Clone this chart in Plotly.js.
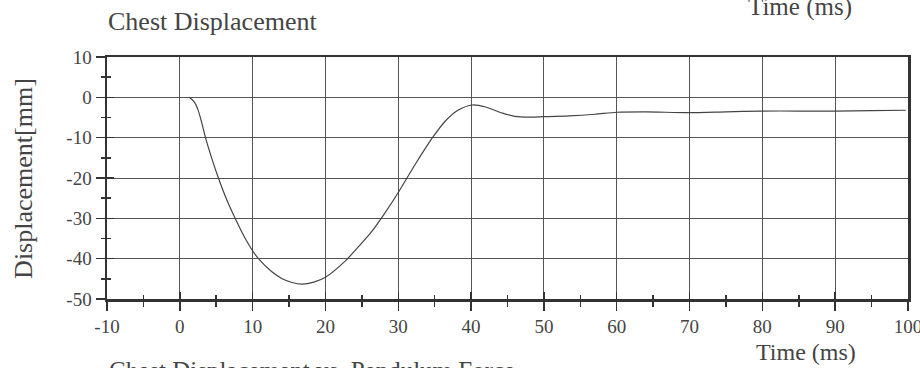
<!DOCTYPE html>
<html><head><meta charset="utf-8">
<script src="https://cdn.plot.ly/plotly-3.0.1.min.js"></script>
<style>html,body{margin:0;padding:0;background:#fff}#chart{width:920px;height:368px}</style>
</head><body><div id="chart"></div>
<script>
const timeMs = [1.3, 2.0, 2.5, 3.0, 3.5, 4.4, 5.3, 6.4, 7.6, 8.8, 9.9, 10.8, 12.6, 14.0, 15.4, 16.8, 18.4, 20.0, 22.7, 24.5, 26.4, 28.2, 30.0, 32.4, 34.7, 36.5, 38.2, 40.2, 42.0, 44.3, 46.0, 48.0, 50.0, 53.5, 57.0, 60.0, 64.0, 69.8, 75.0, 79.8, 85.0, 90.0, 95.0, 99.7];
const displacementMm = [0.0, -1.2, -3.1, -6.2, -9.8, -15.2, -20.0, -25.2, -30.0, -34.4, -37.8, -40.0, -43.2, -44.9, -45.9, -46.3, -45.8, -44.6, -40.6, -37.1, -33.2, -28.6, -23.6, -16.4, -10.0, -5.8, -3.2, -1.9, -2.4, -3.9, -4.7, -4.9, -4.8, -4.6, -4.2, -3.7, -3.6, -3.8, -3.6, -3.4, -3.4, -3.4, -3.3, -3.2];
const xTicks = [-10, 0, 10, 20, 30, 40, 50, 60, 70, 80, 90, 100];
const yTicks = [10, 0, -10, -20, -30, -40, -50];

const serif = "Liberation Serif, Times New Roman, serif";
const ink = "#444";

const trace = {
  x: timeMs, y: displacementMm, type: "scatter", mode: "lines",
  line: {color: "#444", width: 1.2, shape: "spline", smoothing: 0.8},
  hoverinfo: "skip", showlegend: false
};
// invisible helper trace so overlay axes (inside tick marks) are drawn
const helper = {x: [-10], y: [-50], xaxis: "x2", yaxis: "y2", mode: "markers",
  marker: {opacity: 0}, hoverinfo: "skip", showlegend: false, type: "scatter"};

const layout = {
  width: 920, height: 368,
  margin: {l: 107, r: 12, t: 57, b: 69},
  paper_bgcolor: "#fff", plot_bgcolor: "#fff",
  font: {family: serif, color: ink, size: 19},
  xaxis: {
    range: [-10, 100], tickvals: xTicks, ticktext: xTicks.map(String),
    showgrid: true, gridcolor: "#555", gridwidth: 1,
    showline: true, linecolor: "#333", linewidth: 2.5, mirror: true,
    ticks: "outside", ticklen: 9, tickcolor: "#333", tickwidth: 1.5,
    minor: {dtick: 5, ticks: "outside", ticklen: 5, tickcolor: "#333", tickwidth: 1.5, showgrid: false},
    zeroline: false, tickfont: {family: serif, size: 19, color: ink},
    ticklabeloverflow: "allow"
  },
  yaxis: {
    range: [-50, 10], tickvals: yTicks, ticktext: yTicks.map(String),
    showgrid: true, gridcolor: "#555", gridwidth: 1,
    showline: true, linecolor: "#333", linewidth: 2.5, mirror: true,
    ticks: "outside", ticklen: 9, tickcolor: "#333", tickwidth: 1.5,
    minor: {dtick: 5, ticks: "outside", ticklen: 4, tickcolor: "#333", tickwidth: 1.5, showgrid: false},
    zeroline: false, tickfont: {family: serif, size: 19, color: ink}
  },
  xaxis2: {
    overlaying: "x", range: [-10, 100], tickvals: xTicks, showticklabels: false,
    showgrid: false, zeroline: false, showline: false, side: "bottom",
    ticks: "inside", ticklen: 7, tickcolor: "#333", tickwidth: 1.5,
    minor: {dtick: 5, ticks: "inside", ticklen: 4, tickcolor: "#333", tickwidth: 1.5, showgrid: false}
  },
  yaxis2: {
    overlaying: "y", range: [-50, 10], tickvals: yTicks, showticklabels: false,
    showgrid: false, zeroline: false, showline: false, side: "left",
    ticks: "inside", ticklen: 7, tickcolor: "#333", tickwidth: 1.5,
    minor: {dtick: 5, ticks: "inside", ticklen: 4, tickcolor: "#333", tickwidth: 1.5, showgrid: false}
  },
  annotations: [
    {text: "Displacement[mm]", xref: "paper", yref: "paper", x: -0.105, y: 0.5, textangle: -90, xanchor: "center", yanchor: "middle", showarrow: false, font: {family: serif, size: 26, color: ink}},
    {text: "Chest Displacement", xref: "paper", yref: "paper", x: -0.001, y: 1.145, xanchor: "left", yanchor: "middle", showarrow: false, font: {family: serif, size: 26, color: ink}},
    {text: "Time (ms)", xref: "paper", yref: "paper", x: 0.865, y: 1.14, xanchor: "center", yanchor: "bottom", showarrow: false, font: {family: serif, size: 25, color: ink}},
    {text: "Time (ms)", xref: "paper", yref: "paper", x: 0.873, y: -0.22, xanchor: "center", yanchor: "middle", showarrow: false, font: {family: serif, size: 24, color: ink}},
    {text: "Chest Displacement vs. Pendulum Force", xref: "paper", yref: "paper", x: 0.0, y: -0.23, xanchor: "left", yanchor: "top", showarrow: false, font: {family: serif, size: 25, color: ink}}
  ]
};

Plotly.newPlot("chart", [trace, helper], layout, {staticPlot: true, displayModeBar: false});
</script></body></html>
